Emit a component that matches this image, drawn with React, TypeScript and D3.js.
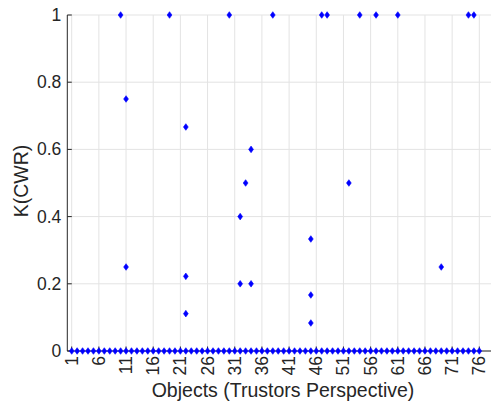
import React from "react";
import * as d3 from "d3";

// Objects 1..76, every one has a K(CWR) value of 0
const objectCount = 76;
const objects = d3.range(1, objectCount + 1);

// Non-zero K(CWR) values: object index and value
const nzObjects = [10, 11, 11, 19, 22, 22, 22, 30, 32, 32, 33, 34, 34, 38, 45, 45, 45, 47, 48, 52, 54, 57, 61, 69, 74, 75];
const nzValues = [1, 0.75, 0.25, 1, 2 / 3, 2 / 9, 1 / 9, 1, 0.4, 0.2, 0.5, 0.6, 0.2, 1, 1 / 3, 1 / 6, 1 / 12, 1, 1, 0.5, 1, 1, 1, 0.25, 1, 1];

const xTicks = [1, 6, 11, 16, 21, 26, 31, 36, 41, 46, 51, 56, 61, 66, 71, 76];
const yTicks = [0, 0.2, 0.4, 0.6, 0.8, 1];

const W = 491;
const H = 408;
const left = 67.3;
const right = 491;
const top = 15;
const bottom = 351;

const x = d3.scaleLinear().domain([0.19, 78.15]).range([left, right]);
const y = d3.scaleLinear().domain([0, 1]).range([bottom, top]);

const textColor = "#262626";
const gridColor = "#e3e3e3";
const font = "'Liberation Sans', Arial, Helvetica, sans-serif";
const tickFont = 17.5;
const labelFont = 19.5;

function Diamond({ cx, cy }: { cx: number; cy: number }) {
  const hw = 2.4;
  const hh = 3.3;
  return (
    <path
      d={`M${cx},${cy - hh}L${cx + hw},${cy}L${cx},${cy + hh}L${cx - hw},${cy}Z`}
      fill="#0000ff"
      stroke="#0000ff"
      strokeWidth={0.6}
    />
  );
}

export default function App() {
  const points: { o: number; v: number }[] = [
    ...objects.map((o) => ({ o, v: 0 })),
    ...nzObjects.map((o, i) => ({ o, v: nzValues[i] })),
  ];

  return (
    <svg
      width={W}
      height={H}
      style={{ position: "absolute", left: 0, top: 0, background: "#fff" }}
      fontFamily={font}
    >
      <rect width={W} height={H} fill="#fff" />
      {/* grid */}
      {xTicks.map((t) => (
        <line key={"gx" + t} x1={x(t)} x2={x(t)} y1={top} y2={bottom} stroke={gridColor} strokeWidth={1} />
      ))}
      {yTicks.map((t) => (
        <line key={"gy" + t} x1={left} x2={right} y1={y(t)} y2={y(t)} stroke={gridColor} strokeWidth={1} />
      ))}
      {/* axes */}
      <line x1={left} x2={left} y1={top} y2={bottom} stroke={textColor} strokeWidth={1} />
      <line x1={left} x2={right} y1={bottom} y2={bottom} stroke={textColor} strokeWidth={1} />
      {yTicks.map((t) => (
        <g key={"ty" + t}>
          <line x1={left} x2={left + 4.5} y1={y(t)} y2={y(t)} stroke={textColor} />
          <text
            x={left - 6}
            y={y(t)}
            textAnchor="end"
            dominantBaseline="central"
            fontSize={tickFont}
            fill={textColor}
          >
            {String(t)}
          </text>
        </g>
      ))}
      {xTicks.map((t) => (
        <g key={"tx" + t}>
          <line x1={x(t)} x2={x(t)} y1={bottom} y2={bottom - 4.5} stroke={textColor} />
          <text
            transform={`translate(${x(t)},${bottom + 5}) rotate(-90)`}
            textAnchor="end"
            dominantBaseline="central"
            fontSize={tickFont}
            fill={textColor}
          >
            {String(t)}
          </text>
        </g>
      ))}
      {/* markers */}
      {points.map((p, i) => (
        <Diamond key={i} cx={x(p.o)} cy={y(p.v)} />
      ))}
      {/* labels */}
      <text x={283} y={397} textAnchor="middle" fontSize={labelFont} fill={textColor}>
        Objects (Trustors Perspective)
      </text>
      <text
        transform={`translate(27.5,181) rotate(-90)`}
        textAnchor="middle"
        fontSize={labelFont}
        fill={textColor}
      >
        K(CWR)
      </text>
    </svg>
  );
}
